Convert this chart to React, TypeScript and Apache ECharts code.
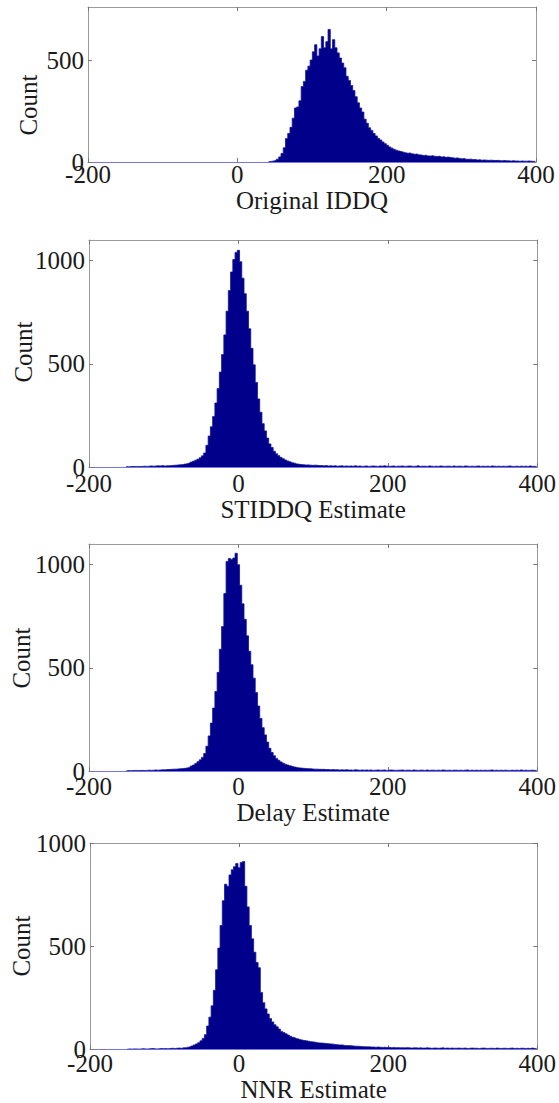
import React, { useEffect, useRef } from "react";
import * as echarts from "echarts";

// ---------- data ----------
const BIN_WIDTH = 3;
const xLabels = ["Original IDDQ", "STIDDQ Estimate", "Delay Estimate", "NNR Estimate"];
const yName = "Count";
const xMin = -200;
const xMax = 400;
const xInterval = 200;
const yTicksP1 = [0, 500];
const yTicksOther = [0, 500, 1000];
const yMaxes = [760, 1100, 1100, 1000];
const binStarts = [42, -150, -150, -150];

const originalIddq = [
  2, 3, 5, 8, 14, 25, 42, 70, 115, 140,
  170, 215, 265, 270, 300, 370, 395, 450, 470, 500,
  540, 575, 520, 555, 615, 560, 590, 650, 555, 600,
  560, 535, 510, 485, 462, 420, 400, 375, 350, 320,
  290, 265, 245, 210, 190, 168, 155, 140, 128, 116,
  108, 98, 90, 82, 74, 68, 62, 58, 54, 51,
  48, 45, 43, 44, 40, 38, 39, 35, 34, 32,
  33, 30, 29, 31, 28, 27, 28, 25, 26, 23,
  24, 22, 21, 19, 20, 17, 16, 17, 14, 13,
  14, 12, 12, 10, 11, 9, 10, 9, 8, 9,
  8, 7, 8, 7, 6, 7, 6, 6, 5, 6,
  5, 5, 4, 5, 4, 4, 5, 4, 3, 4,
];

const stiddqEstimate = [
  2, 1, 2, 3, 2, 3, 2, 3, 4, 3, 4, 5, 4, 5, 6, 5, 7,
  5, 6, 6, 7, 8, 9, 10, 11, 12, 14, 16, 19,
  24, 28, 33, 38, 45, 54, 68, 105, 150, 195,
  245, 310, 380, 460, 545, 640, 755, 855, 945, 1005,
  1040, 1050, 995, 915, 840, 755, 670, 575, 495, 410,
  330, 265, 210, 175, 140, 112, 95, 76, 64, 55,
  46, 40, 34, 29, 25, 21, 18, 15, 13, 12,
  11, 10, 10, 9, 8, 9, 8, 7, 7,
  6, 7, 5, 6, 5, 6, 4, 5, 6, 4, 5, 4, 5, 4, 6, 4, 5, 3, 4, 5,
  3, 4, 5, 4, 3, 5, 4, 6, 4, 3, 4, 5, 3, 4, 4, 5, 3, 4, 5, 4,
  3, 4, 6, 3, 4, 4, 3, 5, 4, 3, 4, 3, 5, 4, 3, 4, 4, 3, 5, 3,
  4, 4, 3, 5, 4, 3, 4, 3, 4, 5, 3, 4, 3, 4, 3, 5, 4, 3, 4, 3,
  4, 3, 4, 5, 3, 3, 4, 3, 4, 3, 4, 3, 5, 3, 3, 4,
];

const delayEstimate = [
  1, 2, 1, 2, 3, 2, 2, 3, 2, 3, 4, 3, 4, 5, 4, 5, 6,
  6, 7, 7, 8, 9, 9, 10, 11, 12, 13, 15, 17,
  24, 29, 36, 45, 54, 66, 85, 120, 170, 232,
  305, 385, 478, 590, 700, 860, 1015, 1030, 1025, 1032,
  1055, 1000, 900, 810, 735, 655, 580, 515, 450, 380,
  315, 255, 210, 175, 140, 110, 90, 74, 61, 52,
  44, 38, 33, 29, 25, 22, 19, 17, 15, 14,
  13, 12, 11, 11, 10, 9, 9, 8, 8,
  8, 7, 7, 6, 7, 6, 6, 5, 6, 5, 6, 5, 5, 4, 6, 5, 4, 5, 4, 5,
  4, 5, 3, 4, 5, 4, 4, 5, 3, 4, 5, 4, 3, 4, 4, 5, 3, 4, 4, 3,
  5, 4, 3, 4, 4, 3, 5, 3, 4, 4, 3, 4, 3, 5, 4, 3, 4, 3, 4, 4,
  3, 4, 3, 4, 5, 3, 4, 3, 4, 3, 4, 3, 4, 3, 4, 5, 3, 4, 3, 4,
  3, 4, 3, 3, 4, 3, 4, 3, 5, 3, 4, 3, 3, 4, 3, 4,
];

const nnrEstimate = [
  0, 1, 0, 1, 1, 0, 1, 2, 1, 1, 2, 3, 2, 1, 2, 3, 2,
  3, 2, 3, 4, 3, 4, 5, 4, 6, 7, 9, 11,
  15, 20, 25, 31, 40, 52, 70, 112, 155, 210,
  285, 385, 490, 600, 720, 800, 790, 845, 870, 885,
  900, 880, 905, 910, 790, 690, 600, 535, 470, 420,
  395, 275, 225, 195, 170, 148, 132, 118, 108, 97,
  86, 80, 74, 68, 62, 57, 54, 50, 47, 44,
  42, 40, 38, 36, 35, 33, 31, 30, 29,
  28, 27, 26, 25, 24, 22, 21, 20, 20, 18, 17, 17, 16, 15, 14, 14, 13, 12, 12, 11,
  11, 10, 10, 9, 10, 9, 8, 9, 8, 8, 7, 8, 7, 7, 6, 7, 6, 7, 6, 5,
  6, 6, 5, 6, 5, 5, 6, 5, 4, 5, 5, 4, 5, 6, 4, 5, 4, 5, 4, 4,
  5, 4, 4, 5, 3, 4, 5, 4, 4, 3, 4, 5, 4, 3, 4, 4, 3, 5, 4, 3,
  4, 4, 3, 4, 5, 3, 4, 3, 4, 4, 3, 4, 3, 5, 3, 4,
];

const allCounts = [originalIddq, stiddqEstimate, delayEstimate, nnrEstimate];

// ---------- layout / style ----------
const FONT = '"Liberation Serif", "Times New Roman", serif';
const FS = 25;
const TEXT = "#1a1a1a";
const BOX = "#9a9a9a";
const FILL = "#00008a";

const layout = [
  { left: 88, top: 7, width: 448, height: 155, labelMargin: 0, nameGap: 16, countX: 28, countY: 105 },
  { left: 89, top: 240, width: 450, height: 227, labelMargin: 4, nameGap: 25, countX: 23, countY: 352 },
  { left: 89, top: 544, width: 449, height: 227, labelMargin: 3, nameGap: 26, countX: 21, countY: 658 },
  { left: 90, top: 843, width: 449, height: 207, labelMargin: 2, nameGap: 27, countX: 21, countY: 946 },
];

function buildOption() {
  const grid: any[] = [];
  const xAxis: any[] = [];
  const yAxis: any[] = [];
  const series: any[] = [];
  const graphic: any[] = [];

  layout.forEach((l, i) => {
    grid.push({ left: l.left, top: l.top, width: l.width, height: l.height, containLabel: false });
    const yTicks = i === 0 ? yTicksP1 : yTicksOther;
    const tick = { show: true, inside: true, length: 4, lineStyle: { color: "#777", width: 1 } };
    xAxis.push({
      type: "value",
      gridIndex: i,
      position: "bottom",
      min: xMin,
      max: xMax,
      interval: xInterval,
      axisLine: { show: true, onZero: false, lineStyle: { color: "#7676e6", width: 1 } },
      axisTick: tick,
      axisLabel: {
        margin: l.labelMargin,
        fontSize: FS,
        fontFamily: FONT,
        color: TEXT,
        showMinLabel: true,
        showMaxLabel: true,
        formatter: (v: number) => String(v),
      },
      splitLine: { show: false },
      name: xLabels[i],
      nameLocation: "middle",
      nameGap: l.nameGap,
      nameTextStyle: { fontSize: FS, fontFamily: FONT, color: TEXT },
    });
    xAxis.push({
      type: "value",
      gridIndex: i,
      position: "top",
      min: xMin,
      max: xMax,
      interval: xInterval,
      axisLine: { show: true, onZero: false, lineStyle: { color: BOX, width: 1 } },
      axisTick: tick,
      axisLabel: { show: false },
      splitLine: { show: false },
    });
    yAxis.push({
      type: "value",
      gridIndex: i,
      position: "left",
      min: 0,
      max: yMaxes[i],
      axisLine: { show: true, onZero: false, lineStyle: { color: BOX, width: 1 } },
      axisTick: { ...tick, customValues: yTicks },
      axisLabel: {
        customValues: yTicks,
        margin: 4,
        fontSize: FS,
        fontFamily: FONT,
        color: TEXT,
        formatter: (v: number) => String(v),
      },
      splitLine: { show: false },
    });
    yAxis.push({
      type: "value",
      gridIndex: i,
      position: "right",
      min: 0,
      max: yMaxes[i],
      axisLine: { show: true, onZero: false, lineStyle: { color: BOX, width: 1 } },
      axisTick: { ...tick, customValues: yTicks },
      axisLabel: { show: false },
      splitLine: { show: false },
    });
    const counts = allCounts[i];
    series.push({
      type: "line",
      xAxisIndex: i * 2,
      yAxisIndex: i * 2,
      data: counts.map((c, k) => [binStarts[i] + k * BIN_WIDTH, c]),
      step: "middle",
      symbol: "none",
      lineStyle: { color: "#10109c", width: 0.8 },
      areaStyle: { color: FILL, opacity: 1 },
      silent: true,
    });
    graphic.push({
      type: "text",
      x: l.countX,
      y: l.countY,
      rotation: Math.PI / 2,
      style: {
        text: yName,
        fontSize: FS,
        fontFamily: FONT,
        fill: TEXT,
        align: "center",
        verticalAlign: "middle",
      },
    });
  });

  return {
    animation: false,
    backgroundColor: "#ffffff",
    grid,
    xAxis,
    yAxis,
    series,
    graphic,
  };
}

export default function App() {
  const ref = useRef<HTMLDivElement>(null);
  useEffect(() => {
    if (!ref.current) return;
    const chart = echarts.init(ref.current, undefined, { renderer: "svg" });
    chart.setOption(buildOption() as any);
    return () => chart.dispose();
  }, []);
  return (
    <div
      ref={ref}
      style={{ position: "absolute", left: 0, top: 0, width: 559, height: 1103, background: "#fff" }}
    />
  );
}
